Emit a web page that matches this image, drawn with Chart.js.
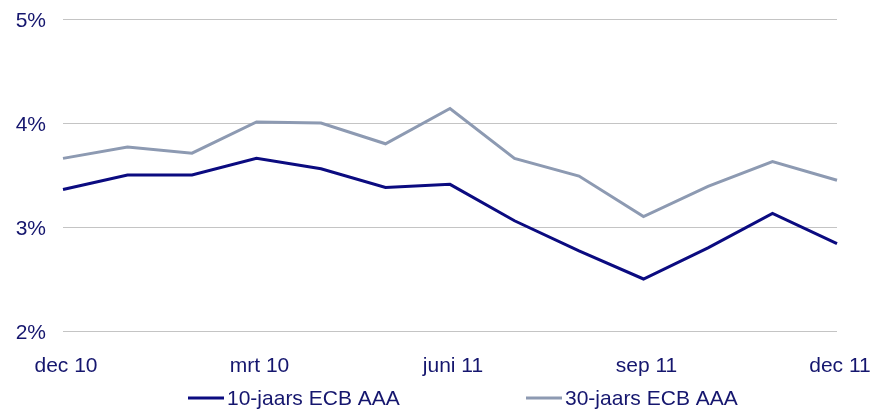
<!DOCTYPE html>
<html>
<head>
<meta charset="utf-8">
<script src="https://cdn.jsdelivr.net/npm/chart.js@4/dist/chart.umd.min.js"></script>
<style>
  html, body { margin: 0; padding: 0; background: #fff; }
  #wrap { width: 872px; height: 409px; position: relative; }
</style>
</head>
<body>
<div id="wrap"><canvas id="lijnChart"></canvas></div>
<script>
// maanden (alleen elke derde krijgt een label)
const maanden = ['dec 10', 'jan 11', 'feb 11', 'mrt 10', 'apr 11', 'mei 11', 'juni 11',
  'juli 11', 'aug 11', 'sep 11', 'okt 11', 'nov 11', 'dec 11'];
const toonLabel = ['dec 10', 'mrt 10', 'juni 11', 'sep 11', 'dec 11'];

// rente in %
const rente10 = [3.36, 3.50, 3.50, 3.66, 3.56, 3.38, 3.41, 3.06, 2.77, 2.50, 2.80, 3.13, 2.84];
const rente30 = [3.66, 3.77, 3.71, 4.01, 4.00, 3.80, 4.14, 3.66, 3.49, 3.10, 3.39, 3.63, 3.45];

const yTicks = [2, 3, 4, 5];

const tekstKleur = '#15166e';
const font = { family: '"Liberation Sans", Arial, sans-serif', size: 21 };

// legenda onderaan, lijntje + tekst
const legendaPlugin = {
  id: 'legenda',
  afterDraw(chart) {
    const ctx = chart.ctx;
    const y = 398;
    const xs = [188, 526];
    ctx.save();
    ctx.font = font.size + 'px ' + font.family;
    ctx.textBaseline = 'middle';
    chart.data.datasets.forEach((ds, i) => {
      ctx.strokeStyle = ds.borderColor;
      ctx.lineWidth = 3;
      ctx.beginPath();
      ctx.moveTo(xs[i], y);
      ctx.lineTo(xs[i] + 36, y);
      ctx.stroke();
      ctx.fillStyle = tekstKleur;
      ctx.fillText(ds.label, xs[i] + 39, y + 1);
    });
    ctx.restore();
  }
};

new Chart(document.getElementById('lijnChart'), {
  type: 'line',
  data: {
    labels: maanden,
    datasets: [{
      label: '10-jaars ECB AAA',
      data: rente10,
      borderColor: '#0b0b80',
      backgroundColor: '#0b0b80',
      borderWidth: 3,
      pointRadius: 0,
      tension: 0
    }, {
      label: '30-jaars ECB AAA',
      data: rente30,
      borderColor: '#8d9ab2',
      backgroundColor: '#8d9ab2',
      borderWidth: 3,
      pointRadius: 0,
      tension: 0
    }]
  },
  options: {
    responsive: true,
    maintainAspectRatio: false,
    animation: false,
    layout: { padding: { left: 0, right: 35, top: 19, bottom: 30 } },
    plugins: {
      legend: { display: false },
      tooltip: { enabled: false }
    },
    scales: {
      x: {
        grid: { display: false, drawTicks: false },
        border: { display: false },
        afterFit: s => { s.height = 48; s.paddingLeft = 0; s.paddingRight = 0; },
        ticks: {
          autoSkip: false,
          maxRotation: 0,
          padding: 23,
          labelOffset: 3,
          color: tekstKleur,
          font: font,
          callback: function (v) {
            const l = this.getLabelForValue(v);
            return toonLabel.includes(l) ? l : '';
          }
        }
      },
      y: {
        min: yTicks[0],
        max: yTicks[yTicks.length - 1],
        afterFit: s => { s.width = 63; s.paddingTop = 0; s.paddingBottom = 0; },
        afterBuildTicks: s => { s.ticks = yTicks.map(v => ({ value: v })); },
        grid: { color: '#c4c4c4', lineWidth: 1, drawTicks: false },
        border: { display: false },
        ticks: {
          padding: 17,
          labelOffset: 2,
          color: tekstKleur,
          font: font,
          callback: v => v + '%'
        }
      }
    }
  },
  plugins: [legendaPlugin]
});
</script>
</body>
</html>
